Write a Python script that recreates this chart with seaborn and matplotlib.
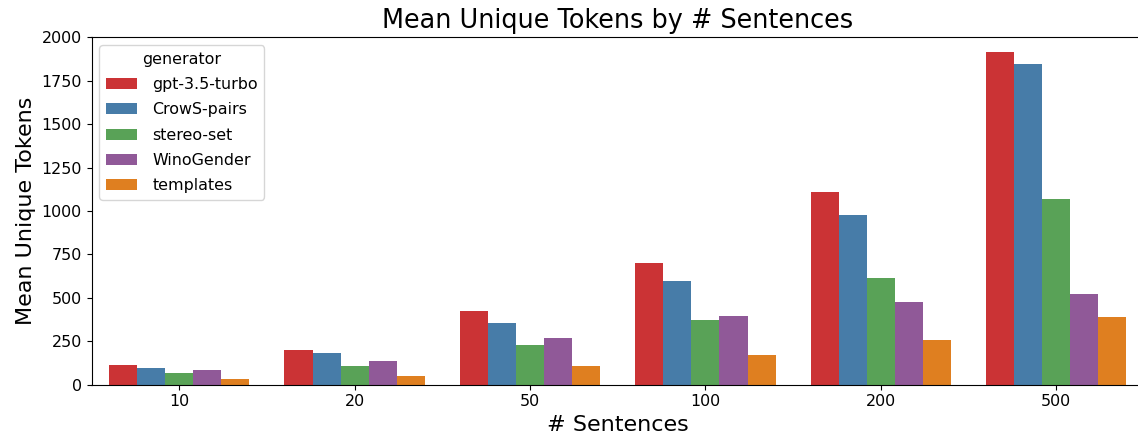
import matplotlib
matplotlib.use("Agg")
import matplotlib.pyplot as plt
import seaborn as sns
import pandas as pd

categories = ["10", "20", "50", "100", "200", "500"]
generators = ["gpt-3.5-turbo", "CrowS-pairs", "stereo-set", "WinoGender", "templates"]
gpt_turbo = [114, 202, 425, 701, 1108, 1915]
crows_pairs = [95, 181, 356, 595, 978, 1848]
stereo_set = [66, 108, 229, 372, 614, 1072]
wino_gender = [87, 135, 270, 393, 479, 520]
templates = [33, 48, 108, 170, 256, 391]

series = [gpt_turbo, crows_pairs, stereo_set, wino_gender, templates]
rows = []
for gen, vals in zip(generators, series):
    for cat, v in zip(categories, vals):
        rows.append({"# Sentences": cat, "generator": gen, "Mean Unique Tokens": v})
df = pd.DataFrame(rows)

plt.rcParams["font.family"] = ["DejaVu Sans"]
plt.rcParams["font.size"] = 11.4

fig = plt.figure(figsize=(11.38, 4.42), dpi=100)
ax = fig.add_axes([91.5 / 1138, (442 - 384.7) / 442, (1144 - 91.5) / 1138, (384.7 - 37.5) / 442])

sns.barplot(data=df, x="# Sentences", y="Mean Unique Tokens", hue="generator",
            order=categories, hue_order=generators, palette="Set1", ax=ax)

ax.set_ylim(0, 2000)
ax.set_yticks([0, 250, 500, 750, 1000, 1250, 1500, 1750, 2000])
ax.set_title("Mean Unique Tokens by # Sentences", fontsize=18.4, pad=7)
ax.set_xlabel("# Sentences", fontsize=16)
ax.set_ylabel("Mean Unique Tokens", fontsize=16)
ax.tick_params(labelsize=11.4)
ax.spines["right"].set_visible(False)
ax.legend(title="generator", loc="upper left", fontsize=11.4, title_fontsize=11.4,
          labelspacing=0.65, handletextpad=0.95)

fig.savefig("out.png", dpi=100)
